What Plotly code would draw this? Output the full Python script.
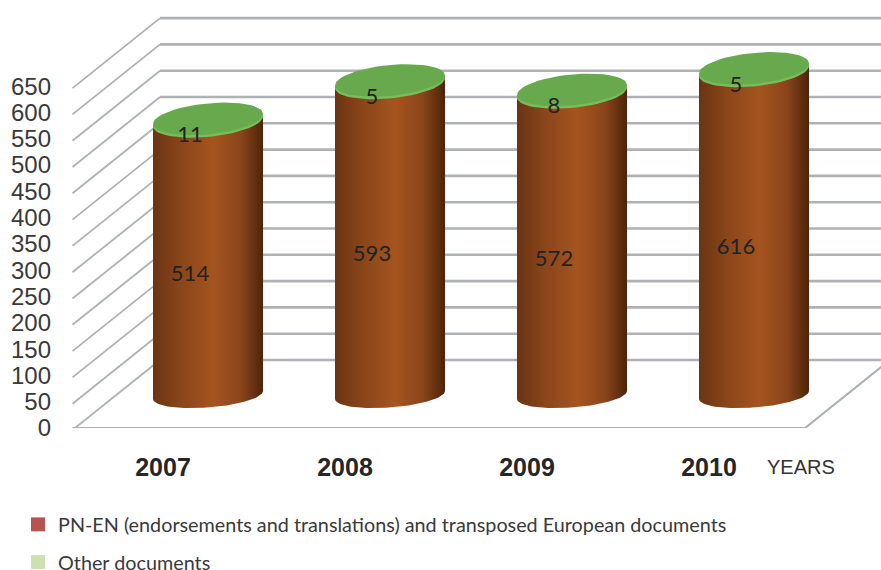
import numpy as np
import plotly.graph_objects as go

years = ["2007", "2008", "2009", "2010"]
pn_en = [514, 593, 572, 616]
other = [11, 5, 8, 5]
y_ticks = list(range(0, 651, 50))
series_names = ["PN-EN (endorsements and translations) and transposed European documents", "Other documents"]

# layout scale
W, H = 881, 570
LEFT, BASE, TOP = 70, 428, 6
PX_PER_VAL = 0.526
SLOT = 182.0      # px per category
X0 = 163.0        # px of first category
def ux(px): return px / SLOT
def uy(px): return px / PX_PER_VAL
xr = [(LEFT - X0) / SLOT, (W - X0) / SLOT]
yr = [0, uy(BASE - TOP)]

DX, DY = ux(85), uy(68)
x_front = (75 - X0) / SLOT
x_start = (72.5 - X0) / SLOT
x_front_right = (805 - X0) / SLOT
x_far = xr[1] + 0.01

GRID = "#AEB1B5"
fig = go.Figure()

# back wall + left wall + floor
bx, by, dx, dy = [], [], [], []
for v in y_ticks:
    bx += [x_front + DX, x_far, None]
    by += [v + DY, v + DY, None]
    dx += [x_start, x_front + DX, None]
    dy += [v - uy(2.0), v + DY, None]
fig.add_trace(go.Scatter(x=bx, y=by, mode="lines", line=dict(color=GRID, width=2.6), showlegend=False, hoverinfo="skip"))
fig.add_trace(go.Scatter(x=dx, y=dy, mode="lines", line=dict(color=GRID, width=1.8), showlegend=False, hoverinfo="skip"))
fig.add_trace(go.Scatter(x=[x_start, x_front_right, x_front_right + DX], y=[0, 0, DY], mode="lines",
                         line=dict(color=GRID, width=2.2), showlegend=False, hoverinfo="skip"))

# cylinders
RX = ux(55)
BASE_Y = uy(BASE - 395)
OFF = ux(45)
RY_T, RY_B, TILT = uy(15.5), uy(12.5), uy(5)
BROWN = [[0, "#6A3413"], [0.25, "#8A451A"], [0.55, "#A5541F"], [0.8, "#8A451A"], [1, "#4E2309"]]

def arc(cx, cy, ry, k, a, b, n=60):
    t = np.linspace(a, b, n)
    return cx + RX * np.cos(t), cy + ry * np.sin(t) + k * np.cos(t)

for i, (a, b) in enumerate(zip(pn_en, other)):
    cx = i + OFF
    top = BASE_Y + a + b
    # body
    xb, yb = arc(cx, BASE_Y, RY_B, TILT * 0.8, np.pi, 2 * np.pi)
    xt, yt = arc(cx, top, RY_T, TILT, 2 * np.pi, np.pi)
    fig.add_trace(go.Scatter(x=np.r_[xb, xt], y=np.r_[yb, yt], mode="lines", fill="toself",
                             line=dict(width=0, color="rgba(0,0,0,0)"),
                             fillgradient=dict(type="horizontal", colorscale=BROWN),
                             showlegend=False, hoverinfo="skip"))
    # rim
    xr_, yr_ = arc(cx, top - uy(2.5), RY_T, TILT, 0, 2 * np.pi)
    fig.add_trace(go.Scatter(x=xr_, y=yr_, mode="lines", fill="toself", fillcolor="#74BE5C",
                             line=dict(width=0, color="rgba(0,0,0,0)"), showlegend=False, hoverinfo="skip"))
    # top disc
    xd, yd = arc(cx, top, RY_T, TILT, 0, 2 * np.pi)
    fig.add_trace(go.Scatter(x=xd, y=yd, mode="lines", fill="toself", fillcolor="#69A94E",
                             line=dict(width=0, color="rgba(0,0,0,0)"), showlegend=False, hoverinfo="skip"))

# value labels
lx = [i + OFF - ux(18) for i in range(4)]
fig.add_trace(go.Scatter(x=lx, y=[BASE_Y + a / 2 - uy(16) for a in pn_en], mode="text",
                         text=[str(a) for a in pn_en], textfont=dict(family="Lato", size=22, color="#222222"),
                         showlegend=False, hoverinfo="skip"))
fig.add_trace(go.Scatter(x=lx, y=[BASE_Y + a + b - uy(18) for a, b in zip(pn_en, other)], mode="text",
                         text=[str(b) for b in other], textfont=dict(family="Lato", size=22, color="#222222"),
                         showlegend=False, hoverinfo="skip"))

# legend entries
fig.add_trace(go.Scatter(x=[None], y=[None], mode="markers", name=series_names[0], legendgroup="a",
                         marker=dict(symbol="square", size=14, color="#B85450")))
fig.add_trace(go.Scatter(x=[None], y=[None], mode="markers", name=series_names[1], legendgroup="b",
                         marker=dict(symbol="square", size=14, color="#CFE0B0")))

pw = W - LEFT
ph = BASE - TOP
fig.update_layout(
    width=W, height=H, autosize=False, paper_bgcolor="white", plot_bgcolor="white",
    margin=dict(l=LEFT, r=0, t=TOP, b=H - BASE, pad=0, autoexpand=False),
    xaxis=dict(range=xr, tickmode="array", tickvals=list(range(4)), ticktext=years, showgrid=False, zeroline=False,
               showline=False, ticks="", ticklabelstandoff=22,
               tickfont=dict(family="Liberation Sans", size=25, color="#262626", weight="bold")),
    yaxis=dict(range=yr, tickmode="array", tickvals=y_ticks, showgrid=False, zeroline=False, showline=False,
               ticks="", ticklabelstandoff=18,
               tickfont=dict(family="Liberation Sans", size=24, color="#3A3A3A")),
    legend=dict(x=(18 - LEFT) / pw, xanchor="left", y=(BASE - 505) / ph, yanchor="top", bgcolor="rgba(0,0,0,0)",
                font=dict(family="Lato", size=19.8, color="#3A3A3A"), tracegroupgap=9, itemclick=False, itemdoubleclick=False),
    annotations=[dict(text="YEARS", xref="paper", yref="paper", x=(801 - LEFT) / pw, y=(BASE - 467) / ph,
                      xanchor="center", yanchor="middle",
                      showarrow=False, font=dict(family="Liberation Sans", size=20, color="#333333"))],
)
fig.write_html("out.html", post_script="document.body.style.margin='0';", config={"displayModeBar": False})
